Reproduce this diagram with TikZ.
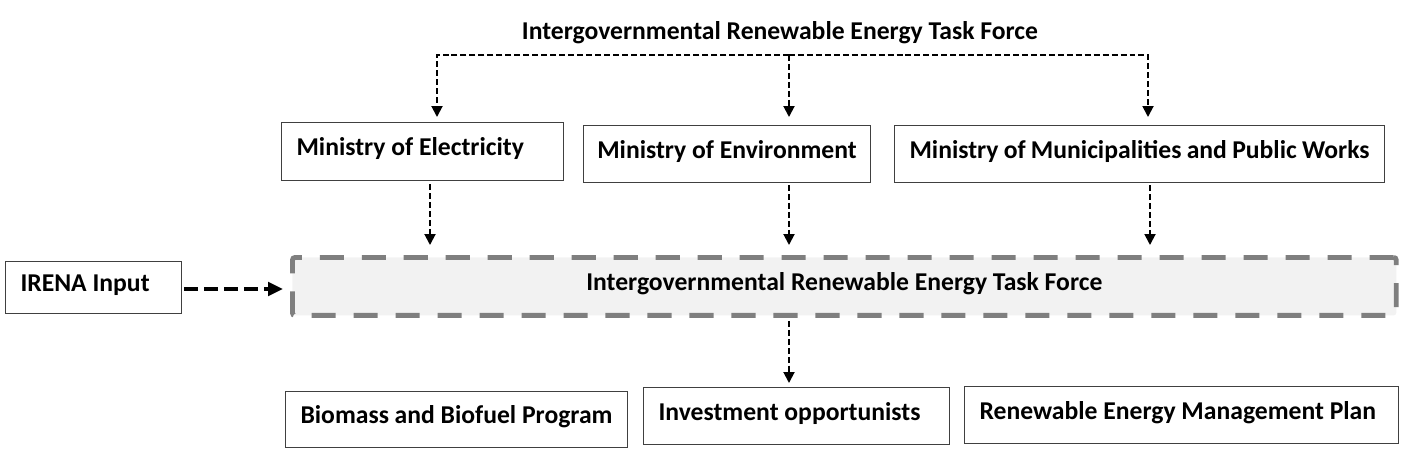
\documentclass[tikz,border=0pt]{standalone}
\usepackage{fontspec}
\setmainfont{Carlito}
\usetikzlibrary{arrows.meta,positioning}
\definecolor{taskfill}{HTML}{F2F2F2}
\definecolor{taskline}{HTML}{7F7F7F}

\begin{document}
\begin{tikzpicture}[x=0.02cm,y=-0.02cm,
    font=\fontsize{14.6}{17}\selectfont\bfseries,
    box/.style={draw=black!75,line width=0.6pt,anchor=north west,inner xsep=0.3cm,inner ysep=0pt,text height=9.8pt,text depth=5pt},
    flow/.style={line width=1.1pt,dash pattern=on 3.4pt off 1.7pt,-{Triangle[length=0.22cm,width=0.22cm]}},
    bigflow/.style={line width=2.6pt,dash pattern=on 8pt off 3.4pt,-{Triangle[length=0.3cm,width=0.27cm]}}]
    \useasboundingbox (0,0) rectangle (1406,453);
    % heading
    \node (title) at (780,33) {Intergovernmental Renewable Energy Task Force};
    % ministries
    \node[box,align=flush left,text width=5.04cm,minimum height=1.16cm] (elec) at (281,122) {Ministry of Electricity};
    \node[box,align=flush center,inner xsep=0.12cm,text width=5.5cm,minimum height=1.14cm] (env) at (583,125) {Ministry of Environment};
    \node[box,align=flush center,text width=9.2cm,minimum height=1.14cm] (muni) at (894,125) {Ministry of Municipalities and Public Works};
    % task force
    \node[box,draw=taskline,fill=taskfill,line width=2.8pt,dash pattern=on 13.7pt off 10.2pt,rounded corners=1.5pt,align=flush center,text width=21.48cm,minimum height=1.16cm] (task) at (290,255) {Intergovernmental Renewable Energy Task Force};
    \node[box,align=flush left,text width=2.92cm,minimum height=1.04cm] (irena) at (5,261) {IRENA Input};
    % outputs
    \node[box,align=flush center,text width=6.24cm,minimum height=1.12cm] (bio) at (285,391) {Biomass and Biofuel Program};
    \node[box,align=flush left,text width=5.52cm,minimum height=1.14cm] (inv) at (643,387) {Investment opportunists};
    \node[box,align=flush left,text width=8.08cm,minimum height=1.14cm] (remp) at (964,386) {Renewable Energy Management Plan};
    % bus coordinates
    \coordinate (busL) at (437,55);
    \coordinate (busM) at (789,55);
    \coordinate (busR) at (1148,55);
    \coordinate (dropL) at (430,0);
    \coordinate (dropR) at (1150,0);
    \draw[flow,shorten >=0.1cm] (busM) -- (busL) -- (elec.north -| busL);
    \draw[flow,shorten >=0.16cm] (busM) -- (env.north -| busM);
    \draw[flow,shorten >=0.16cm] (busM) -- (busR) -- (muni.north -| busR);
    \draw[flow,shorten <=0.06cm,shorten >=0.2cm] (elec.south -| dropL) -- (task.north -| dropL);
    \draw[flow,shorten <=0.04cm,shorten >=0.2cm] (env.south -| busM) -- (task.north -| busM);
    \draw[flow,shorten <=0.04cm,shorten >=0.2cm] (muni.south -| dropR) -- (task.north -| dropR);
    \draw[bigflow,shorten <=0.04cm,shorten >=0.14cm] (irena.east |- 0,289) -- (task.west |- 0,289);
    \draw[flow,shorten <=0.06cm,shorten >=0.08cm] (task.south -| busM) -- (inv.north -| busM);
\end{tikzpicture}
\end{document}
